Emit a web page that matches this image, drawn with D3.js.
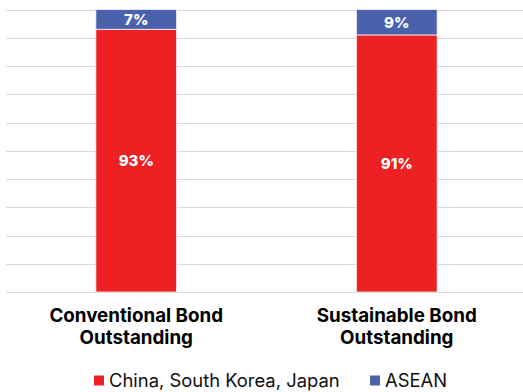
<!DOCTYPE html>
<html>
<head>
<meta charset="utf-8">
<script src="https://cdn.jsdelivr.net/npm/d3@7"></script>
<style>
  html, body { margin: 0; padding: 0; background: #fff; }
  svg { display: block; font-family: Inter, "Noto Sans", sans-serif; }
</style>
</head>
<body>
<div id="chart"></div>
<script>
// bond market shares, percent of total
const categories = [["Conventional Bond", "Outstanding"], ["Sustainable Bond", "Outstanding"]];
const seriesNames = ["China, South Korea, Japan", "ASEAN"];
const plusThree = [93, 91];
const asean = [7, 9];
const colors = ["#ED2024", "#4A62AE"];

const width = 523, height = 392;
const plotTop = 9.5, plotBottom = 292, plotLeft = 6;

const svg = d3.select("#chart").append("svg")
    .attr("width", width)
    .attr("height", height);

const x = d3.scaleBand()
    .domain(d3.range(categories.length))
    .range([plotLeft, width + 4])
    .paddingInner(0.69)
    .paddingOuter(0.345);

const y = d3.scaleLinear()
    .domain([0, 100])
    .range([plotBottom, plotTop]);

// gridlines every 10%
svg.append("g")
    .selectAll("line")
    .data(y.ticks(10))
    .join("line")
    .attr("x1", plotLeft)
    .attr("x2", width)
    .attr("y1", d => Math.round(y(d)) + 0.5)
    .attr("y2", d => Math.round(y(d)) + 0.5)
    .attr("stroke", "#d9d9d9")
    .attr("stroke-width", 1);

const rows = categories.map((c, i) => ({i, values: [plusThree[i], asean[i]]}));
const stack = d3.stack().keys([0, 1]).value((d, k) => d.values[k]);
const layers = stack(rows);

const g = svg.append("g");
layers.forEach((layer, k) => {
    g.selectAll(null)
        .data(layer)
        .join("rect")
        .attr("x", d => x(d.data.i))
        .attr("y", d => y(d[1]))
        .attr("width", x.bandwidth())
        .attr("height", d => y(d[0]) - y(d[1]))
        .attr("fill", colors[k])
        .attr("stroke", "#f3f3f3")
        .attr("stroke-width", 0.8);

    g.selectAll(null)
        .data(layer)
        .join("text")
        .attr("x", d => x(d.data.i) + x.bandwidth() / 2)
        .attr("y", d => (y(d[0]) + y(d[1])) / 2)
        .attr("dy", "0.36em")
        .attr("text-anchor", "middle")
        .attr("fill", "#fff")
        .attr("font-size", 15)
        .attr("font-weight", 800)
        .text(d => (d[1] - d[0]) + "%");
});

// category labels
const cat = svg.append("g")
    .selectAll("text")
    .data(categories)
    .join("text")
    .attr("x", (d, i) => x(i) + x.bandwidth() / 2)
    .attr("y", 321.7)
    .attr("text-anchor", "middle")
    .attr("font-size", 18.8)
    .attr("font-weight", 700)
    .attr("fill", "#000");
cat.selectAll("tspan")
    .data(d => d)
    .join("tspan")
    .attr("x", function () { return this.parentNode.getAttribute("x"); })
    .attr("dy", (d, j) => j ? 22.6 : 0)
    .text(d => d);

// legend
const legendX = [94, 370];
const legend = svg.append("g");
seriesNames.forEach((name, k) => {
    legend.append("rect")
        .attr("x", legendX[k])
        .attr("y", 375.5)
        .attr("width", 10)
        .attr("height", 10)
        .attr("fill", colors[k]);
    legend.append("text")
        .attr("x", legendX[k] + 15)
        .attr("y", 386.5)
        .attr("font-size", 18.4)
        .attr("fill", "#111")
        .text(name);
});
</script>
</body>
</html>
